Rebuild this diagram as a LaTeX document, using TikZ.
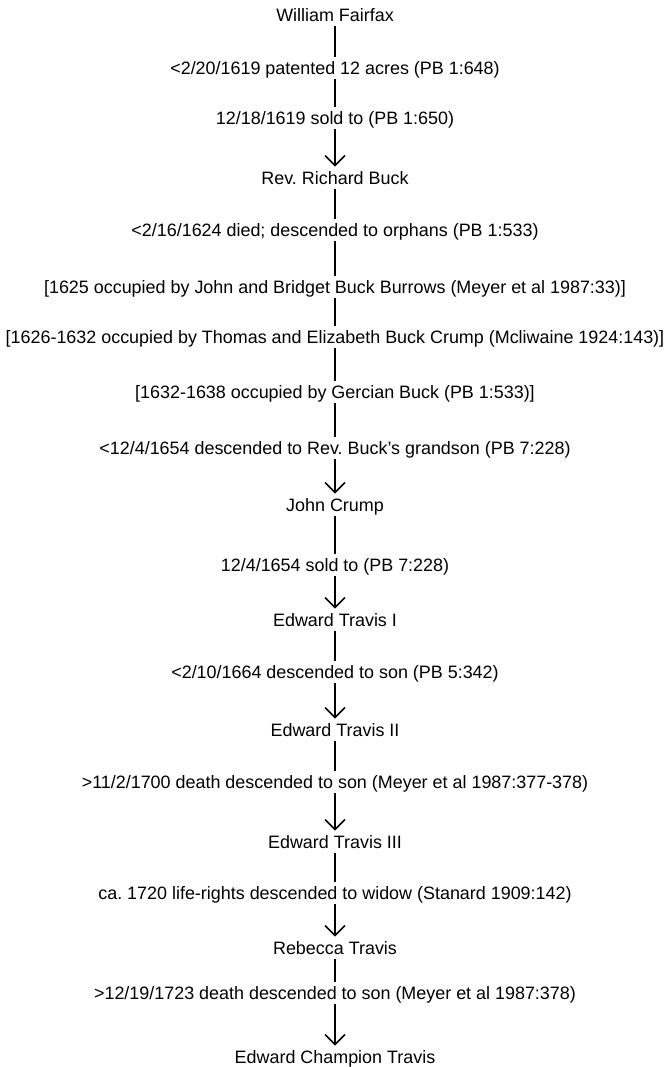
\documentclass[tikz,border=0pt]{standalone}
\usepackage{fontspec}
\setmainfont{Liberation Sans}
\usetikzlibrary{arrows.meta}

\begin{document}
\begin{tikzpicture}[main/.style = {inner sep=1pt, text height=1.6ex, text depth=.3ex,
                                   font=\fontsize{10.2pt}{12pt}\selectfont},
                    line width=0.9pt, >={Straight Barb[length=2mm, width=4mm]}]
                \useasboundingbox (0,0) rectangle (13.32,-21.34);

                \node[main] at (6.7, -0.30) (WF) {William Fairfax};
                \node[main] at (6.7, -1.36) (e1) {<2/20/1619 patented 12 acres (PB 1:648)};
                \node[main] at (6.7, -2.36) (e2) {12/18/1619 sold to (PB 1:650)};
                \node[main] at (6.7, -3.56) (RB) {Rev.\ Richard Buck};
                \node[main] at (6.7, -4.60) (e3) {<2/16/1624 died; descended to orphans (PB 1:533)};
                \node[main] at (6.7, -5.74) (e4) {[1625 occupied by John and Bridget Buck Burrows (Meyer et al 1987:33)]};
                \node[main] at (6.7, -6.74) (e5) {[1626-1632 occupied by Thomas and Elizabeth Buck Crump (Mcliwaine 1924:143)]};
                \node[main] at (6.7, -7.84) (e6) {[1632-1638 occupied by Gercian Buck (PB 1:533)]};
                \node[main] at (6.7, -8.96) (e7) {<12/4/1654 descended to Rev.\ Buck's grandson (PB 7:228)};
                \node[main] at (6.7, -10.10) (JC) {John Crump};
                \node[main] at (6.7, -11.30) (e8) {12/4/1654 sold to (PB 7:228)};
                \node[main] at (6.7, -12.40) (ET1) {Edward Travis I};
                \node[main] at (6.7, -13.44) (e9) {<2/10/1664 descended to son (PB 5:342)};
                \node[main] at (6.7, -14.60) (ET2) {Edward Travis II};
                \node[main] at (6.7, -15.64) (e10) {>11/2/1700 death descended to son (Meyer et al 1987:377-378)};
                \node[main] at (6.7, -16.84) (ET3) {Edward Travis III};
                \node[main] at (6.7, -17.86) (e11) {ca.\ 1720 life-rights descended to widow (Stanard 1909:142)};
                \node[main] at (6.7, -18.96) (RT) {Rebecca Travis};
                \node[main] at (6.7, -19.86) (e12) {>12/19/1723 death descended to son (Meyer et al 1987:378)};
                \node[main] at (6.7, -21.14) (ECT) {Edward Champion Travis};

                \draw (WF) -- (e1);
                \draw (e1) -- (e2);
                \draw[->] (e2) -- (RB);
                \draw (RB) -- (e3);
                \draw (e3) -- (e4);
                \draw (e4) -- (e5);
                \draw (e5) -- (e6);
                \draw (e6) -- (e7);
                \draw[->] (e7) -- (JC);
                \draw (JC) -- (e8);
                \draw[->] (e8) -- (ET1);
                \draw (ET1) -- (e9);
                \draw[->] (e9) -- (ET2);
                \draw (ET2) -- (e10);
                \draw[->] (e10) -- (ET3);
                \draw (ET3) -- (e11);
                \draw[->] (e11) -- (RT);
                \draw (RT) -- (e12);
                \draw[->] (e12) -- (ECT);
            \end{tikzpicture}
\end{document}
